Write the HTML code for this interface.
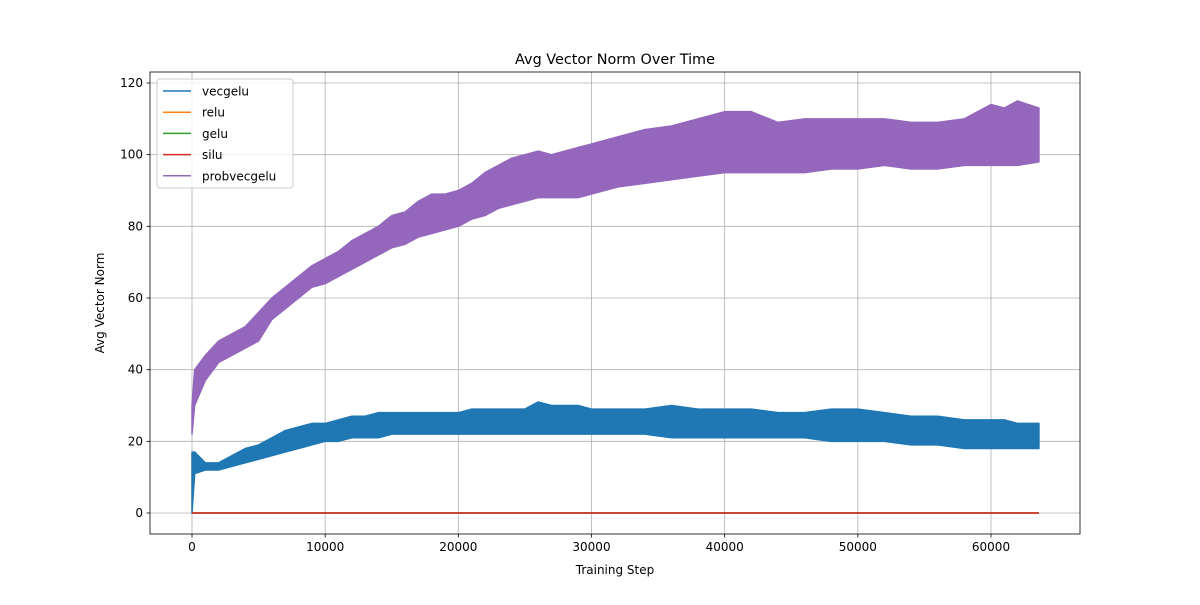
<!DOCTYPE html>
<html><head><meta charset="utf-8"><style>
body{margin:0;background:#fff;}
svg text{font-family:"DejaVu Sans","Liberation Sans",sans-serif;}
</style></head><body>
<svg id="chart" width="1200" height="600" xmlns="http://www.w3.org/2000/svg">
<rect width="1200" height="600" fill="#fff"/>
<g id="grid"></g><g id="series"></g><g id="axes"></g>
</svg>
<script>
const xTicks=[0,10000,20000,30000,40000,50000,60000];
const yTicks=[0,20,40,60,80,100,120];
const steps=[0,200,1000,2000,3000,4000,5000,6000,7000,8000,9000,10000,11000,12000,13000,14000,15000,16000,17000,18000,19000,20000,21000,22000,23000,24000,25000,26000,27000,28000,29000,30000,32000,34000,36000,38000,40000,42000,44000,46000,48000,50000,52000,54000,56000,58000,60000,61000,62000,63600];
const probLow=[22,30,37,42,44,46,48,54,57,60,63,64,66,68,70,72,74,75,77,78,79,80,82,83,85,86,87,88,88,88,88,89,91,92,93,94,95,95,95,95,96,96,97,96,96,97,97,97,97,98];
const probHigh=[30,40,44,48,50,52,56,60,63,66,69,71,73,76,78,80,83,84,87,89,89,90,92,95,97,99,100,101,100,101,102,103,105,107,108,110,112,112,109,110,110,110,110,109,109,110,114,113,115,113];
const vecLow=[0,11,12,12,13,14,15,16,17,18,19,20,20,21,21,21,22,22,22,22,22,22,22,22,22,22,22,22,22,22,22,22,22,22,21,21,21,21,21,21,20,20,20,19,19,18,18,18,18,18];
const vecHigh=[17,17,14,14,16,18,19,21,23,24,25,25,26,27,27,28,28,28,28,28,28,28,29,29,29,29,29,31,30,30,30,29,29,29,30,29,29,29,28,28,29,29,28,27,27,26,26,26,25,25];
const flatSeries=[["relu","#ff7f0e"],["gelu","#2ca02c"],["silu","#d62728"]];
const flatValue=0, lastStep=63600;
const L=150,R=1080,T=72,B=534;
const X=v=>192+(v/60000)*799;
const Y=v=>513-(v/120)*430;
const NS="http://www.w3.org/2000/svg";
function mk(tag,attrs,parent){const e=document.createElementNS(NS,tag);for(const k in attrs)e.setAttribute(k,attrs[k]);parent.appendChild(e);return e;}
const grid=document.getElementById('grid'),ser=document.getElementById('series'),ax=document.getElementById('axes');
xTicks.forEach(t=>{const l=mk('line',{x1:X(t),x2:X(t),y1:T,y2:B,stroke:'#b0b0b0','stroke-width':0.8},grid);

mk('line',{x1:X(t),x2:X(t),y1:B,y2:B+3.5,stroke:'#000','stroke-width':0.8},ax);
const tx=mk('text',{x:X(t),y:B+17,'font-size':12,'text-anchor':'middle'},ax);tx.textContent=t;
});
yTicks.forEach(t=>{const l=mk('line',{x1:L,x2:R,y1:Y(t),y2:Y(t),stroke:'#b0b0b0','stroke-width':0.8},grid);

mk('line',{x1:L-3.5,x2:L,y1:Y(t),y2:Y(t),stroke:'#000','stroke-width':0.8},ax);
const tx=mk('text',{x:L-7,y:Y(t)+4,'font-size':12,'text-anchor':'end'},ax);tx.textContent=t;
});
function band(lo,hi,color,name){let d='M'+steps.map((s,i)=>X(s)+','+Y(hi[i])).join('L');
for(let i=steps.length-1;i>=0;i--)d+='L'+X(steps[i])+','+Y(lo[i]);d+='Z';
const p=mk('path',{d:d,fill:color,stroke:color,'stroke-width':1.5,'stroke-linejoin':'round'},ser);
}
band(vecLow,vecHigh,'#1f77b4','vecgelu-series');
flatSeries.forEach(([n,c])=>{const l=mk('line',{x1:X(0),x2:X(lastStep),y1:Y(flatValue),y2:Y(flatValue),stroke:c,'stroke-width':1.5},ser);
});
band(probLow,probHigh,'#9467bd','probvecgelu-series');
const fr=mk('rect',{x:L,y:T,width:R-L,height:B-T,fill:'none',stroke:'#000','stroke-width':0.8},ax);

const ti=mk('text',{x:615,y:64,'font-size':14.4,'text-anchor':'middle'},ax);ti.textContent='Avg Vector Norm Over Time';

const xl=mk('text',{x:615,y:574,'font-size':12,'text-anchor':'middle'},ax);xl.textContent='Training Step';

const yl=mk('text',{x:104,y:303,'font-size':12,'text-anchor':'middle',transform:'rotate(-90 104 303)'},ax);yl.textContent='Avg Vector Norm';

const lg=mk('g',{},ax);
mk('rect',{x:157,y:79,width:136,height:109,rx:3,fill:'#fff','fill-opacity':0.8,stroke:'#ccc','stroke-width':1},lg);
const entries=[['vecgelu','#1f77b4'],['relu','#ff7f0e'],['gelu','#2ca02c'],['silu','#d62728'],['probvecgelu','#9467bd']];
entries.forEach(([n,c],i)=>{const y=91+i*21.2;const g=mk('g',{},lg);

mk('line',{x1:163,x2:191,y1:y,y2:y,stroke:c,'stroke-width':1.5},g);
const t=mk('text',{x:202,y:y+4.5,'font-size':12},g);t.textContent=n;});
</script>
</body></html>
